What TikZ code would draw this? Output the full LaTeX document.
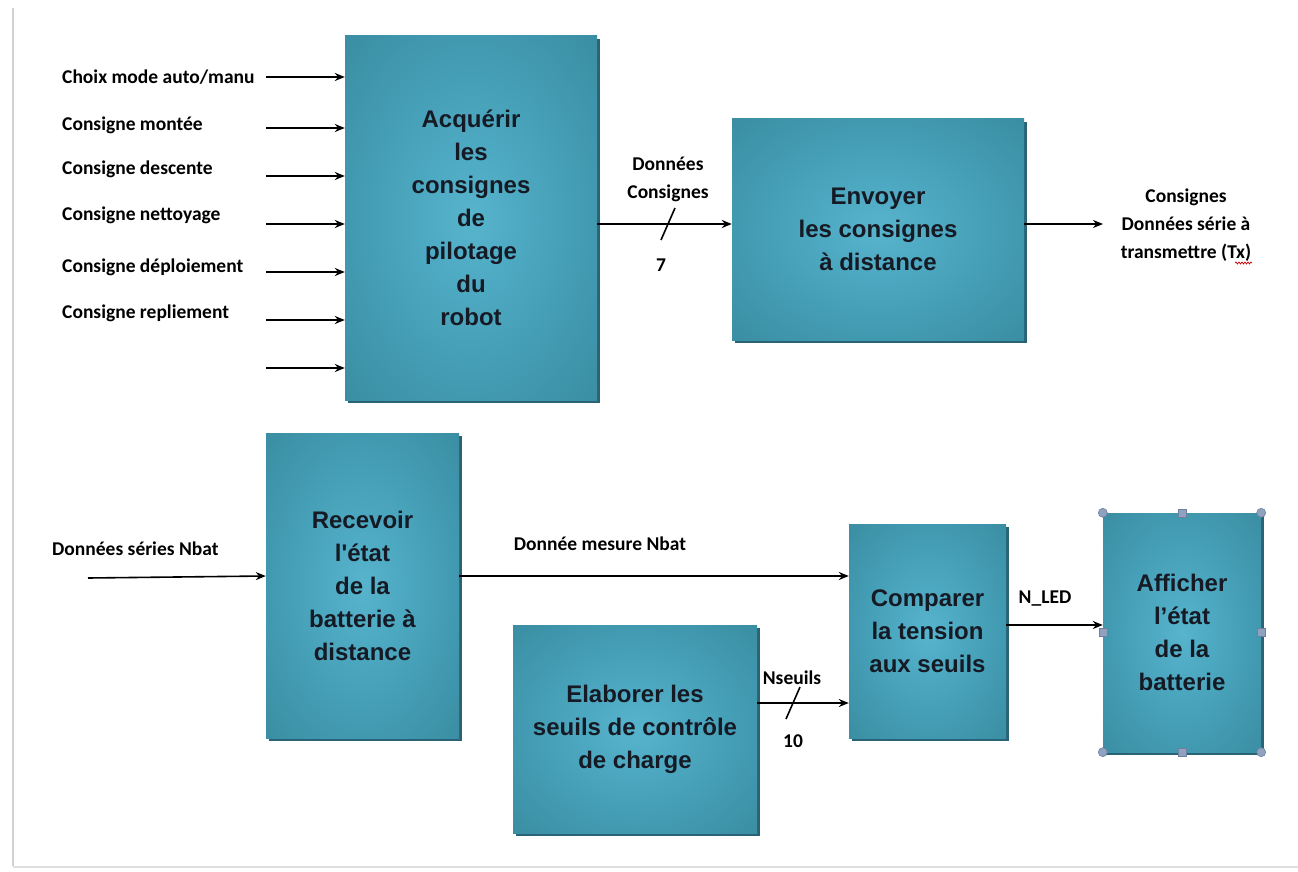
\documentclass[tikz,border=0pt]{standalone}
\usepackage{fontspec}
\setmainfont{Liberation Sans}
\newfontfamily\boxfont{Liberation Sans}[Ligatures=TeXOff]
\newfontfamily\lblfont{Carlito}
\usetikzlibrary{arrows.meta,decorations.pathmorphing}
\definecolor{boxin}{RGB}{86,180,204}
\definecolor{boxmid}{RGB}{68,158,182}
\definecolor{boxout}{RGB}{56,137,157}
\definecolor{boxshadow}{RGB}{40,100,118}
\definecolor{boxtext}{RGB}{22,26,36}
\definecolor{handle}{RGB}{145,162,192}
\definecolor{handleedge}{RGB}{110,128,160}
\pgfdeclareradialshading{boxshade}{\pgfpoint{0bp}{0bp}}{color(0bp)=(boxin); color(20bp)=(boxmid); color(40bp)=(boxout); color(50bp)=(boxout)}
\tikzset{
  box/.style={shading=boxshade, draw=none, align=center, text=boxtext,
    font=\boxfont\fontsize{24}{33}\selectfont\bfseries, inner sep=0pt},
  lbl/.style={font=\lblfont\fontsize{19.5}{22}\selectfont\bfseries, text=black, inner sep=0pt},
  arr/.style={line width=1.6pt, -{Stealth[length=10pt,width=8pt]}},
  slash/.style={line width=1.6pt},
  hcirc/.style={circle, fill=handle, draw=handleedge, line width=0.6pt, minimum size=9pt, inner sep=0pt},
  hsq/.style={rectangle, fill=handle, draw=handleedge, line width=0.6pt, minimum size=8pt, inner sep=0pt},
}
\newcommand{\shadowbox}[4]{\fill[boxshadow] (#1+3,#2+3) rectangle (#3+3,#4+3);}
\begin{document}
\begin{tikzpicture}[x=1pt,y=-1pt]
\useasboundingbox (0,0) rectangle (1298,872);
\fill[white] (0,0) rectangle (1298,872);
\draw[gray!35, line width=2pt] (13,8) -- (13,866);
\draw[gray!25, line width=1.5pt] (13,867) -- (1298,867);

% shadows
\shadowbox{345}{36}{597}{400}
\shadowbox{732}{119}{1024}{340}
\shadowbox{266}{433}{459}{738}
\shadowbox{513}{625}{757}{833}
\shadowbox{849}{524}{1006}{738}
\shadowbox{1103}{513}{1261}{752}

% boxes
\node[box, minimum width=252pt, minimum height=364pt] (acq) at (471,218)
  {Acquérir\\les\\consignes\\de\\pilotage\\du\\robot};
\node[box, minimum width=292pt, minimum height=221pt] (env) at (878,229.5)
  {Envoyer\\les consignes\\à distance};
\node[box, minimum width=193pt, minimum height=305pt] (rec) at (362.5,585.5)
  {Recevoir\\l'état\\de la\\batterie à\\distance};
\node[box, minimum width=244pt, minimum height=208pt] (ela) at (635,729)
  {Elaborer les\\seuils de contrôle\\de charge};
\node[box, minimum width=157pt, minimum height=214pt] (cmp) at (927.5,631)
  {Comparer\\la tension\\aux seuils};
\node[box, minimum width=158pt, minimum height=239pt] (aff) at (1182,632.5)
  {Afficher\\l’état\\de la\\batterie};

% input labels
\node[lbl, anchor=west] (l1) at (62,77) {Choix mode auto/manu};
\node[lbl, anchor=west] (l2) at (62,125) {Consigne montée};
\node[lbl, anchor=west] (l3) at (62,169) {Consigne descente};
\node[lbl, anchor=west] (l4) at (62,215) {Consigne nettoyage};
\node[lbl, anchor=west] (l5) at (62,267) {Consigne déploiement};
\node[lbl, anchor=west] (l6) at (62,313) {Consigne repliement};

% input arrows
\foreach \i/\y in {1/77,2/128,3/176,4/224,5/272,6/320,7/368}{
  \coordinate (in\i) at (266,\y);
  \draw[arr] (in\i) -- (in\i -| acq.west);
}

% acq -> env
\coordinate (a2e) at (597,224);
\draw[arr] (a2e) -- (a2e -| env.west);
\coordinate (s1a) at (661,240);
\coordinate (s1b) at (675,208);
\draw[slash] (s1a) -- (s1b);
\node[lbl] (dc1) at (668,164) {Données};
\node[lbl] (dc2) at (668,193) {Consignes};
\node[lbl] (n7) at (661,265) {7};

% env output
\coordinate (eo) at (1024,224);
\coordinate (eoe) at (1103,224);
\draw[arr] (eo) -- (eoe);
\node[lbl] (o1) at (1186,197) {Consignes};
\node[lbl] (o2) at (1186,224) {Données série à};
\node[lbl] (o3) at (1186,253) {transmettre (Tx)};
\draw[red!80!black, line width=0.7pt, decorate, decoration={snake, amplitude=1pt, segment length=3pt}] (1235,263) -- (1252,263);

% bottom input
\node[lbl, anchor=west] (nb) at (52,549) {Données séries Nbat};
\coordinate (bi) at (88,578);
\draw[arr] (bi) -- (rec.west |- 0,576);

% rec -> cmp
\coordinate (r2c) at (459,576);
\draw[arr] (r2c) -- (r2c -| cmp.west);
\node[lbl] (dm) at (600,544) {Donnée mesure Nbat};

% ela -> cmp
\coordinate (e2c) at (757,703);
\draw[arr] (e2c) -- (e2c -| cmp.west);
\coordinate (s2a) at (786,719);
\coordinate (s2b) at (800,687);
\draw[slash] (s2a) -- (s2b);
\node[lbl] (ns) at (792,678) {Nseuils};
\node[lbl] (n10) at (793,741) {10};

% cmp -> aff
\coordinate (c2a) at (1006,625);
\draw[arr] (c2a) -- (c2a -| aff.west);
\node[lbl] (nled) at (1045,599) {N\_LED};

% selection handles
\node[hcirc] (h1) at (aff.north west) {};
\node[hcirc] (h2) at (aff.north east) {};
\node[hcirc] (h3) at (aff.south west) {};
\node[hcirc] (h4) at (aff.south east) {};
\node[hsq] (h5) at (aff.north) {};
\node[hsq] (h6) at (aff.south) {};
\node[hsq] (h7) at (aff.west) {};
\node[hsq] (h8) at (aff.east) {};
\end{tikzpicture}
\end{document}
